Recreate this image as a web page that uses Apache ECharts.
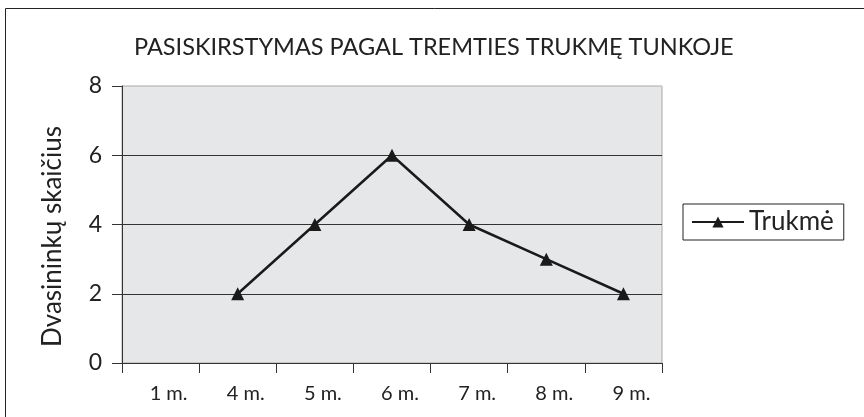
<!DOCTYPE html>
<html>
<head>
    <meta charset="utf-8">
    <title>Pasiskirstymas pagal tremties trukmę</title>
    <script src="https://cdn.jsdelivr.net/npm/echarts@6/dist/echarts.min.js"></script>
    <style>
        html, body { margin: 0; padding: 0; background: #fff; }
        #mainChart { width: 864px; height: 417px; }
    </style>
</head>
<body>
    <div id="mainChart"></div>

<script>
// duomenys
const categories = ['1 m.', '4 m.', '5 m.', '6 m.', '7 m.', '8 m.', '9 m.'];
const trukme = [null, 2, 4, 6, 4, 3, 2];
const seriesName = 'Trukmė';
const titleText = 'PASISKIRSTYMAS PAGAL TREMTIES TRUKMĘ TUNKOJE';
const yName = 'Dvasininkų skaičius';

const FONT = 'Lato';
const chart = echarts.init(document.getElementById('mainChart'));

const option = {
    backgroundColor: '#fff',
    animation: false,
    title: {
        text: titleText,
        left: 129,
        top: 30,
        textStyle: { fontFamily: FONT, fontSize: 23.5, fontWeight: 'normal', color: '#222' }
    },
    legend: {
        left: 683,
        top: 204,
        padding: [5, 10, 5, 8],
        borderColor: '#222',
        borderWidth: 1,
        borderRadius: 0,
        itemWidth: 52,
        itemHeight: 14,
        itemGap: 5,
        textStyle: { fontFamily: FONT, fontSize: 26, color: '#222' },
        data: [seriesName]
    },
    grid: {
        left: 122,
        top: 86,
        width: 540,
        height: 277,
        show: true,
        backgroundColor: '#e6e7e9',
        borderColor: '#a8a8a8',
        borderWidth: 1
    },
    xAxis: {
        type: 'category',
        data: categories,
        boundaryGap: true,
        axisLine: { lineStyle: { color: '#333', width: 1 } },
        axisTick: { show: true, length: 10, inside: false, lineStyle: { color: '#333' } },
        axisLabel: {
            fontFamily: FONT, fontSize: 20, color: '#222',
            margin: 21, padding: [0, 0, 0, 16], interval: 0
        },
        splitLine: { show: false }
    },
    yAxis: {
        type: 'value',
        min: 0,
        max: 8,
        interval: 2,
        name: yName,
        nameLocation: 'middle',
        nameGap: 56,
        nameTextStyle: { fontFamily: FONT, fontSize: 26, color: '#222', padding: [0, 24, 0, 0] },
        axisLine: { show: true, lineStyle: { color: '#333', width: 1 } },
        axisTick: { show: true, length: 10, inside: false, lineStyle: { color: '#333' } },
        axisLabel: { fontFamily: FONT, fontSize: 23, color: '#222', margin: 20 },
        splitLine: {
            show: true,
            lineStyle: { color: ['#333', '#333', '#333', '#333', '#c8c8c8'], width: 1 }
        }
    },
    series: [{
        name: seriesName,
        type: 'line',
        data: trukme,
        connectNulls: false,
        symbol: 'triangle',
        symbolSize: 13,
        lineStyle: { color: '#1a1a1a', width: 2.5 },
        itemStyle: { color: '#1a1a1a' }
    }],
    graphic: [{
        type: 'polyline',
        shape: { points: [[5.5, 417], [5.5, 8.5], [864, 8.5]] },
        style: { stroke: '#222', lineWidth: 1, fill: null },
        silent: true
    }]
};

chart.setOption(option);
</script>
</body>
</html>
